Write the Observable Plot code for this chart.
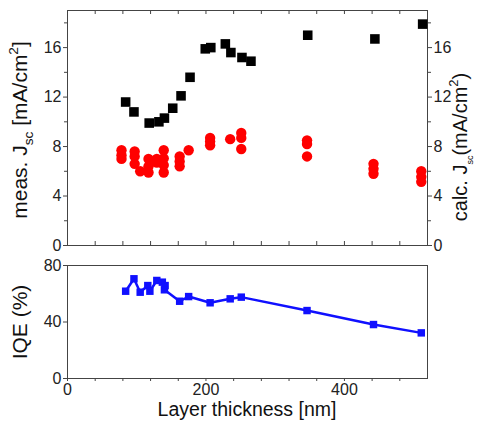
<!DOCTYPE html>
<html><head><meta charset="utf-8">
<script src="https://cdn.jsdelivr.net/npm/d3@7"></script>
<script src="https://cdn.jsdelivr.net/npm/@observablehq/plot@0.6"></script>
<style>
body{margin:0;background:#fff;}
#chart{position:relative;width:481px;height:421px;font-family:"Liberation Sans",Arial,sans-serif;}
#chart svg{position:absolute;left:0;overflow:visible;}
</style></head><body><div id="chart"></div>
<script>
// measured Jsc (black squares)
const measThickness = [84, 96, 118, 132, 140, 152, 164, 177, 199, 207, 228, 236, 252, 265, 347, 444, 513];
const measJsc = [11.6, 10.8, 9.9, 10.0, 10.3, 11.1, 12.1, 13.6, 15.9, 16.0, 16.3, 15.6, 15.2, 14.9, 17.0, 16.7, 17.9];
// calculated Jsc (red dots)
const calcThickness = [78, 78, 78, 97, 97, 97, 105, 117, 117, 117, 129, 129, 139, 139, 139, 139, 162, 162, 162, 175, 206, 206, 206, 235, 251, 251, 251, 346, 346, 346, 442, 442, 442, 511, 511, 511];
const calcJsc = [7.7, 7.3, 7.0, 7.6, 7.2, 6.6, 6.0, 7.0, 6.4, 5.9, 7.0, 6.7, 7.7, 7.05, 6.5, 5.9, 7.2, 6.8, 6.4, 7.7, 8.7, 8.4, 8.1, 8.6, 9.1, 8.7, 7.8, 8.5, 8.2, 7.2, 6.6, 6.2, 5.8, 6.0, 5.55, 5.15];
// IQE (blue)
const iqeThickness = [84, 96, 105, 116, 119, 129, 137, 141, 140, 162, 175, 206, 235, 251, 346, 442, 511];
const iqeValues = [61.8, 70.6, 61.1, 65.8, 61.8, 69.4, 68.2, 65.8, 62.8, 54.7, 58.0, 53.6, 56.4, 57.6, 48.1, 38.2, 32.3];
// ticks
const xMajor = [0, 200, 400];
const xMinor = [40, 80, 120, 160, 240, 280, 320, 360, 440, 480];
const jMajor = [0, 4, 8, 12, 16];
const jMinor = [2, 6, 10, 14, 18];
const iqeMajor = [0, 40, 80];

const meas = measThickness.map((t, i) => ({t, v: measJsc[i]}));
const calc = calcThickness.map((t, i) => ({t, v: calcJsc[i]}));
const iqe = iqeThickness.map((t, i) => ({t, v: iqeValues[i]}));

const W = 481, ML = 67, MR = 54;
const font = "'Liberation Sans', Arial, sans-serif";
const axisCol = "#444";

const topPlot = Plot.plot({
  width: W, height: 255,
  marginLeft: ML, marginRight: MR, marginTop: 10, marginBottom: 10,
  style: {fontFamily: font, fontSize: "16px", color: "#222", background: "transparent"},
  x: {domain: [0, 520], axis: null},
  y: {domain: [0, 19], axis: null},
  marks: [
    Plot.frame({stroke: axisCol}),
    Plot.axisY(jMajor, {anchor: "left", tickSize: 4, tickPadding: 2, fontSize: 16, label: null, stroke: axisCol}),
    Plot.axisY(jMinor, {anchor: "left", tickSize: 3, tickFormat: () => "", label: null, stroke: axisCol}),
    Plot.axisY(jMajor, {anchor: "right", tickSize: 4, tickPadding: 2, fontSize: 16, label: null, stroke: axisCol}),
    Plot.axisY(jMinor, {anchor: "right", tickSize: 3, tickFormat: () => "", label: null, stroke: axisCol}),
    Plot.tickX([...xMajor, ...xMinor], {x: d => d, insetBottom: 231, stroke: axisCol}),
    Plot.tickX([...xMajor, ...xMinor], {x: d => d, insetTop: 231, stroke: axisCol}),
    Plot.dot(meas, {x: "t", y: "v", symbol: "square", r: 5.4, fill: "#000", stroke: "none"}),
    Plot.dot(calc, {x: "t", y: "v", r: 5.2, fill: "#f00", stroke: "none"})
  ]
});
topPlot.style.top = "0px";

const bottomPlot = Plot.plot({
  width: W, height: 166,
  marginLeft: ML, marginRight: MR, marginTop: 10, marginBottom: 43,
  style: {fontFamily: font, fontSize: "16px", color: "#222", background: "transparent"},
  x: {domain: [0, 520], axis: null},
  y: {domain: [0, 80], axis: null},
  marks: [
    Plot.frame({stroke: axisCol}),
    Plot.axisY(iqeMajor, {anchor: "left", tickSize: 4, tickPadding: 2, fontSize: 16, label: null, stroke: axisCol}),
    Plot.axisX(xMajor, {anchor: "bottom", tickSize: 3, tickPadding: 2, fontSize: 16, label: null, stroke: axisCol}),
    Plot.axisX(xMinor, {anchor: "bottom", tickSize: 3, tickFormat: () => "", label: null, stroke: axisCol}),
    Plot.line(iqe, {x: "t", y: "v", stroke: "#1010ff", strokeWidth: 2.5}),
    Plot.dot(iqe, {x: "t", y: "v", symbol: "square", r: 4.2, fill: "#1010ff", stroke: "none"})
  ]
});
bottomPlot.style.top = "255px";

const chart = document.getElementById("chart");
chart.append(topPlot, bottomPlot);

function label(svg, x, y, parts, size, rotate) {
  const t = d3.select(svg).append("text")
    .attr("transform", `translate(${x},${y})` + (rotate ? " rotate(-90)" : ""))
    .attr("text-anchor", "middle")
    .attr("font-family", font)
    .attr("font-size", size)
    .attr("fill", "#111");
  let off = 0;
  parts.forEach(p => {
    const target = p.sub ? 0.3 * size : p.sup ? -0.45 * size : 0;
    t.append("tspan")
      .attr("font-size", p.sub || p.sup ? size * (p.small || 0.65) : size)
      .attr("dy", target - off)
      .text(p.text);
    off = target;
  });
}
label(topPlot, 27, 130, [{text: "meas. J"}, {text: "sc", sub: true}, {text: " [mA/cm"}, {text: "2", sup: true}, {text: "]"}], 21, true);
label(topPlot, 467, 147, [{text: "calc. J"}, {text: "sc", sub: true, small: 0.45}, {text: "(mA/cm"}, {text: "2", sup: true}, {text: ")"}], 20, true);
label(bottomPlot, 27, 67, [{text: "IQE (%)"}], 21, true);
label(bottomPlot, 247, 161, [{text: "Layer thickness [nm]"}], 19.5, false);
</script></body></html>
